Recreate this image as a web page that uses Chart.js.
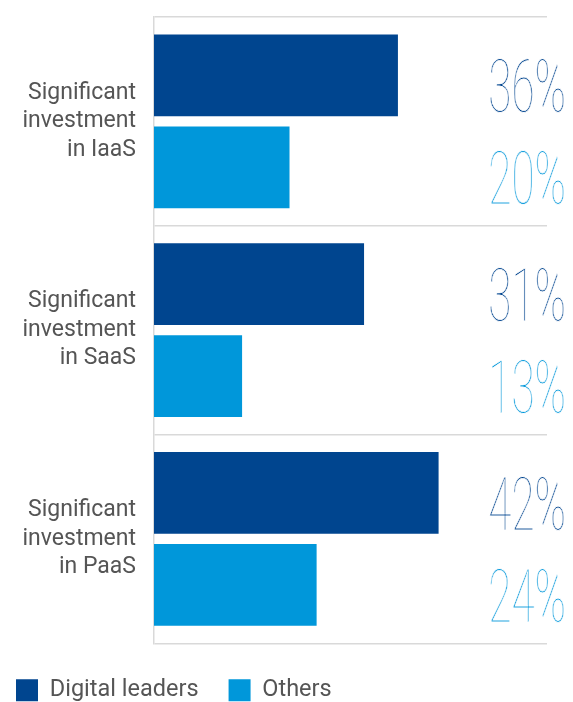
<!DOCTYPE html>
<html>
<head>
<meta charset="utf-8">
<script src="https://cdn.jsdelivr.net/npm/chart.js@4.4.1/dist/chart.umd.min.js"></script>
<style>
  html, body { margin: 0; padding: 0; background: #fff; overflow: hidden; }
  #wrap { width: 573px; height: 712px; }
</style>
</head>
<body>
<div id="wrap"><canvas id="barChart"></canvas></div>
<script>
// data
const categories = [
    ['Significant', 'investment', 'in IaaS'],
    ['Significant', 'investment', 'in SaaS'],
    ['Significant', 'investment', 'in PaaS']
];
const digitalLeaders = [36, 31, 42];
const others = [20, 13, 24];

const DARK = '#00458f';
const LIGHT = '#0097da';

// big thin percentage labels on the right side
// (no thin condensed font here, so squeeze a light one horizontally)
const pctLabels = {
    id: 'pctLabels',
    afterDatasetsDraw(chart) {
        const ctx = chart.ctx;
        chart.data.datasets.forEach((ds, i) => {
            const meta = chart.getDatasetMeta(i);
            meta.data.forEach((bar, j) => {
                const txt = ds.data[j] + '%';
                ctx.save();
                ctx.translate(566, bar.y + 37);
                ctx.scale(0.57, 1);
                ctx.font = '100 74px "Roboto Thin", "DejaVu Sans ExtraLight", Inter';
                ctx.textAlign = 'right';
                ctx.textBaseline = 'alphabetic';
                ctx.fillStyle = ds.backgroundColor;
                ctx.fillText(txt, 0, 0);
                ctx.strokeStyle = '#fff';
                ctx.lineWidth = 0.8;
                ctx.strokeText(txt, 0, 0);
                ctx.restore();
            });
        });
    }
};

new Chart(document.getElementById('barChart'), {
    type: 'bar',
    data: {
        labels: categories,
        datasets: [
            { label: 'Digital leaders', data: digitalLeaders, backgroundColor: DARK },
            { label: 'Others', data: others, backgroundColor: LIGHT }
        ]
    },
    options: {
        indexAxis: 'y',
        responsive: true,
        maintainAspectRatio: false,
        animation: false,
        categoryPercentage: 0.88,
        barPercentage: 0.89,
        layout: { padding: { top: 17, right: 26, left: -14, bottom: 0 } },
        plugins: {
            tooltip: { enabled: false },
            legend: {
                position: 'bottom',
                align: 'start',
                title: { display: true, text: '', padding: { top: 4, bottom: 0 }, font: { size: 1 } },
                labels: {
                    boxWidth: 22,
                    boxHeight: 22,
                    padding: 30,
                    color: '#555',
                    font: { size: 23.5, family: 'Roboto' }
                }
            }
        },
        scales: {
            x: { display: false, min: 0, max: 58 },
            y: {
                grid: { offset: true, color: '#d9d9d9', drawTicks: false, lineWidth: 1.5 },
                border: { color: '#d9d9d9', width: 1.5 },
                ticks: {
                    color: '#555',
                    padding: 18,
                    font: { size: 23, family: 'Roboto', lineHeight: 1.24 }
                },
                afterFit(scale) {
                    scale.width = 168;
                    scale.paddingTop = 0;
                    scale.paddingBottom = 0;
                }
            }
        }
    },
    plugins: [pctLabels]
});
</script>
</body>
</html>
